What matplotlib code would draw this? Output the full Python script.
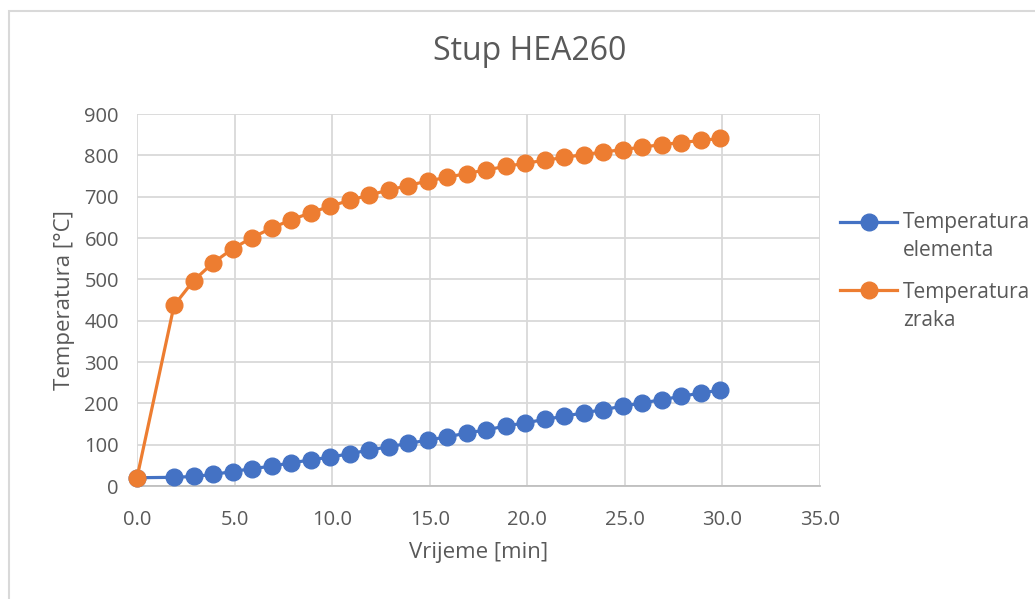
import matplotlib
matplotlib.use("Agg")
import matplotlib.pyplot as plt
from matplotlib.lines import Line2D
from matplotlib.patches import Rectangle
from matplotlib.ticker import FormatStrFormatter

# data
vrijeme = [0.0, 1.9, 2.9, 3.9, 4.9, 5.9, 6.9, 7.9, 8.9, 9.9,
           10.9, 11.9, 12.9, 13.9, 14.9, 15.9, 16.9, 17.9, 18.9, 19.9,
           20.9, 21.9, 22.9, 23.9, 24.9, 25.9, 26.9, 27.9, 28.9, 29.9]
temp_elementa = [20, 21, 23, 28, 35, 42, 48, 56, 63, 70,
                 78, 87, 95, 103, 111, 119, 128, 136, 145, 153,
                 161, 169, 177, 185, 193, 201, 209, 217, 225, 232]
temp_zraka = [20, 437, 497, 540, 574, 601, 624, 644, 661, 677,
              691, 704, 716, 727, 738, 747, 756, 765, 773, 781,
              788, 795, 802, 808, 814, 820, 826, 831, 836, 841]
labels = ["Temperatura\nelementa", "Temperatura\nzraka"]
colors = ["#4472C4", "#ED7D31"]

plt.rcParams["font.family"] = ["Open Sans", "DejaVu Sans"]
txt = "#595959"
grid = "#d9d9d9"

W, H = 1035, 599
fig = plt.figure(figsize=(W / 100, H / 100), dpi=100)
ax = fig.add_axes([137 / W, 1 - 486 / H, (820 - 137) / W, (486 - 114) / H])

# outer chart frame
fig.patches.append(Rectangle((9 / W, -0.1), 1.2, 1.1 - 11 / H,
                             transform=fig.transFigure, fill=False,
                             edgecolor=grid, lw=1.5))

ax.plot(vrijeme, temp_elementa, color=colors[0], lw=2.3, marker="o",
        markersize=12, zorder=3, clip_on=False)
ax.plot(vrijeme, temp_zraka, color=colors[1], lw=2.3, marker="o",
        markersize=12, zorder=4, clip_on=False)

ax.set_xlim(0, 35)
ax.set_ylim(0, 900)
ax.set_xticks(range(0, 36, 5))
ax.set_yticks(range(0, 901, 100))
ax.xaxis.set_major_formatter(FormatStrFormatter("%.1f"))
ax.grid(True, color=grid, lw=1.3)
ax.set_axisbelow(True)
for s in ["top", "right", "left"]:
    ax.spines[s].set_visible(False)
ax.spines["bottom"].set_color("#bfbfbf")
ax.spines["bottom"].set_linewidth(1.3)
ax.tick_params(axis="y", length=0, labelsize=14.5, colors=txt, pad=13)
ax.tick_params(axis="x", length=0, labelsize=14.5, colors=txt, pad=17)

fig.text(530 / W, 1 - 52 / H, "Stup HEA260", fontsize=23, color=txt,
         ha="center", va="center")
ax.set_xlabel("Vrijeme [min]", fontsize=16, color=txt, labelpad=9)
ax.set_ylabel("Temperatura [°C]", fontsize=16, color=txt, labelpad=7)

# legend drawn by hand so the marker sits on the first text line
for i, (lab, c) in enumerate(zip(labels, colors)):
    y = 1 - (222 + i * 68) / H
    fig.lines.append(Line2D([840 / W, 897 / W], [y, y], transform=fig.transFigure,
                            color=c, lw=2.3))
    fig.lines.append(Line2D([868.5 / W], [y], transform=fig.transFigure,
                            color=c, marker="o", markersize=12))
    fig.text(903 / W, 1 - (212 + i * 70) / H, lab, fontsize=15, color=txt,
             ha="left", va="top", linespacing=1.45)

fig.savefig("out.png", dpi=100, facecolor="white")
